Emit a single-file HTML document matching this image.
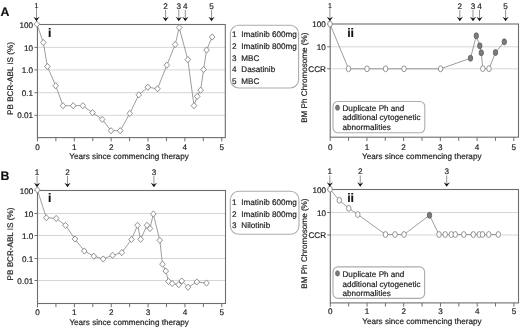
<!DOCTYPE html>
<html><head><meta charset="utf-8"><title>Figure</title>
<style>
html,body{margin:0;padding:0;background:#fff;}
body{width:520px;height:328px;overflow:hidden;font-family:"Liberation Sans",sans-serif;}
svg{display:block;filter:grayscale(1);} svg text{text-rendering:geometricPrecision;stroke:#1c1c1c;stroke-width:0.18px;}
</style></head><body>
<svg width="520" height="328" viewBox="0 0 520 328">
<rect width="520" height="328" fill="#fff"/>
<line x1="37.45" y1="47.4" x2="225.3" y2="47.4" stroke="#d6d6d6" stroke-width="1"/>
<line x1="37.45" y1="69.9" x2="225.3" y2="69.9" stroke="#d6d6d6" stroke-width="1"/>
<line x1="37.45" y1="92.7" x2="225.3" y2="92.7" stroke="#d6d6d6" stroke-width="1"/>
<line x1="37.45" y1="115.3" x2="225.3" y2="115.3" stroke="#d6d6d6" stroke-width="1"/>
<rect x="37.45" y="24.5" width="187.85000000000002" height="113.1" fill="none" stroke="#6e6e6e" stroke-width="1.1"/>
<line x1="34.45" y1="24.5" x2="37.45" y2="24.5" stroke="#6e6e6e" stroke-width="1"/>
<text x="33.150000000000006" y="27.6" text-anchor="end" font-size="8.15" fill="#1c1c1c" font-family="Liberation Sans, sans-serif">100</text>
<line x1="34.45" y1="47.4" x2="37.45" y2="47.4" stroke="#6e6e6e" stroke-width="1"/>
<text x="33.150000000000006" y="50.5" text-anchor="end" font-size="8.15" fill="#1c1c1c" font-family="Liberation Sans, sans-serif">10</text>
<line x1="34.45" y1="69.9" x2="37.45" y2="69.9" stroke="#6e6e6e" stroke-width="1"/>
<text x="33.150000000000006" y="73.0" text-anchor="end" font-size="8.15" fill="#1c1c1c" font-family="Liberation Sans, sans-serif">1.0</text>
<line x1="34.45" y1="92.7" x2="37.45" y2="92.7" stroke="#6e6e6e" stroke-width="1"/>
<text x="33.150000000000006" y="95.8" text-anchor="end" font-size="8.15" fill="#1c1c1c" font-family="Liberation Sans, sans-serif">0.1</text>
<line x1="34.45" y1="115.3" x2="37.45" y2="115.3" stroke="#6e6e6e" stroke-width="1"/>
<text x="33.150000000000006" y="118.39999999999999" text-anchor="end" font-size="8.15" fill="#1c1c1c" font-family="Liberation Sans, sans-serif">0.01</text>
<line x1="37.45" y1="137.6" x2="37.45" y2="141.4" stroke="#6e6e6e" stroke-width="1"/>
<text x="37.45" y="150.0" text-anchor="middle" font-size="8.15" fill="#1c1c1c" font-family="Liberation Sans, sans-serif">0</text>
<line x1="55.88" y1="137.6" x2="55.88" y2="141.2" stroke="#6e6e6e" stroke-width="1"/>
<line x1="74.31" y1="137.6" x2="74.31" y2="141.4" stroke="#6e6e6e" stroke-width="1"/>
<text x="74.31" y="150.0" text-anchor="middle" font-size="8.15" fill="#1c1c1c" font-family="Liberation Sans, sans-serif">1</text>
<line x1="92.74" y1="137.6" x2="92.74" y2="141.2" stroke="#6e6e6e" stroke-width="1"/>
<line x1="111.17" y1="137.6" x2="111.17" y2="141.4" stroke="#6e6e6e" stroke-width="1"/>
<text x="111.17" y="150.0" text-anchor="middle" font-size="8.15" fill="#1c1c1c" font-family="Liberation Sans, sans-serif">2</text>
<line x1="129.60" y1="137.6" x2="129.60" y2="141.2" stroke="#6e6e6e" stroke-width="1"/>
<line x1="148.03" y1="137.6" x2="148.03" y2="141.4" stroke="#6e6e6e" stroke-width="1"/>
<text x="148.03" y="150.0" text-anchor="middle" font-size="8.15" fill="#1c1c1c" font-family="Liberation Sans, sans-serif">3</text>
<line x1="166.46" y1="137.6" x2="166.46" y2="141.2" stroke="#6e6e6e" stroke-width="1"/>
<line x1="184.89" y1="137.6" x2="184.89" y2="141.4" stroke="#6e6e6e" stroke-width="1"/>
<text x="184.89" y="150.0" text-anchor="middle" font-size="8.15" fill="#1c1c1c" font-family="Liberation Sans, sans-serif">4</text>
<line x1="203.32" y1="137.6" x2="203.32" y2="141.2" stroke="#6e6e6e" stroke-width="1"/>
<line x1="221.75" y1="137.6" x2="221.75" y2="141.4" stroke="#6e6e6e" stroke-width="1"/>
<text x="221.75" y="150.0" text-anchor="middle" font-size="8.15" fill="#1c1c1c" font-family="Liberation Sans, sans-serif">5</text>
<text x="129.05" y="159.4" text-anchor="middle" font-size="8.15" fill="#1c1c1c" font-family="Liberation Sans, sans-serif">Years since commencing therapy</text>
<text transform="translate(13.4,78.5) rotate(-90)" text-anchor="middle" font-size="8.15" fill="#1c1c1c" font-family="Liberation Sans, sans-serif">PB BCR-ABL IS (%)</text>
<polyline points="36.9,24.2 43.3,42.5 47.4,66.5 55.7,85.7 63,105.7 73.2,105.7 82.8,105.7 92.5,112.7 102.2,119.4 111,130.7 120.2,130.7 129.8,113.4 138.8,94.8 147.8,87.2 157.5,88.8 166.8,65.2 175.2,44.5 179.2,27.6 187.8,59.6 194,105.7 197.2,96.4 200.6,90.2 203.6,69.5 206.6,50 212.2,37" fill="none" stroke="#858585" stroke-width="0.8"/>
<path d="M34.10,24.2 L36.9,21.10 L39.70,24.2 L36.9,27.30 Z" fill="#fff" stroke="#777" stroke-width="0.8"/>
<path d="M40.50,42.5 L43.3,39.40 L46.10,42.5 L43.3,45.60 Z" fill="#fff" stroke="#777" stroke-width="0.8"/>
<path d="M44.60,66.5 L47.4,63.40 L50.20,66.5 L47.4,69.60 Z" fill="#fff" stroke="#777" stroke-width="0.8"/>
<path d="M52.90,85.7 L55.7,82.60 L58.50,85.7 L55.7,88.80 Z" fill="#fff" stroke="#777" stroke-width="0.8"/>
<path d="M60.20,105.7 L63,102.60 L65.80,105.7 L63,108.80 Z" fill="#fff" stroke="#777" stroke-width="0.8"/>
<path d="M70.40,105.7 L73.2,102.60 L76.00,105.7 L73.2,108.80 Z" fill="#fff" stroke="#777" stroke-width="0.8"/>
<path d="M80.00,105.7 L82.8,102.60 L85.60,105.7 L82.8,108.80 Z" fill="#fff" stroke="#777" stroke-width="0.8"/>
<path d="M89.70,112.7 L92.5,109.60 L95.30,112.7 L92.5,115.80 Z" fill="#fff" stroke="#777" stroke-width="0.8"/>
<path d="M99.40,119.4 L102.2,116.30 L105.00,119.4 L102.2,122.50 Z" fill="#fff" stroke="#777" stroke-width="0.8"/>
<path d="M108.20,130.7 L111,127.60 L113.80,130.7 L111,133.80 Z" fill="#fff" stroke="#777" stroke-width="0.8"/>
<path d="M117.40,130.7 L120.2,127.60 L123.00,130.7 L120.2,133.80 Z" fill="#fff" stroke="#777" stroke-width="0.8"/>
<path d="M127.00,113.4 L129.8,110.30 L132.60,113.4 L129.8,116.50 Z" fill="#fff" stroke="#777" stroke-width="0.8"/>
<path d="M136.00,94.8 L138.8,91.70 L141.60,94.8 L138.8,97.90 Z" fill="#fff" stroke="#777" stroke-width="0.8"/>
<path d="M145.00,87.2 L147.8,84.10 L150.60,87.2 L147.8,90.30 Z" fill="#fff" stroke="#777" stroke-width="0.8"/>
<path d="M154.70,88.8 L157.5,85.70 L160.30,88.8 L157.5,91.90 Z" fill="#fff" stroke="#777" stroke-width="0.8"/>
<path d="M164.00,65.2 L166.8,62.10 L169.60,65.2 L166.8,68.30 Z" fill="#fff" stroke="#777" stroke-width="0.8"/>
<path d="M172.40,44.5 L175.2,41.40 L178.00,44.5 L175.2,47.60 Z" fill="#fff" stroke="#777" stroke-width="0.8"/>
<path d="M176.40,27.6 L179.2,24.50 L182.00,27.6 L179.2,30.70 Z" fill="#fff" stroke="#777" stroke-width="0.8"/>
<path d="M185.00,59.6 L187.8,56.50 L190.60,59.6 L187.8,62.70 Z" fill="#fff" stroke="#777" stroke-width="0.8"/>
<path d="M191.20,105.7 L194,102.60 L196.80,105.7 L194,108.80 Z" fill="#fff" stroke="#777" stroke-width="0.8"/>
<path d="M194.40,96.4 L197.2,93.30 L200.00,96.4 L197.2,99.50 Z" fill="#fff" stroke="#777" stroke-width="0.8"/>
<path d="M197.80,90.2 L200.6,87.10 L203.40,90.2 L200.6,93.30 Z" fill="#fff" stroke="#777" stroke-width="0.8"/>
<path d="M200.80,69.5 L203.6,66.40 L206.40,69.5 L203.6,72.60 Z" fill="#fff" stroke="#777" stroke-width="0.8"/>
<path d="M203.80,50 L206.6,46.90 L209.40,50 L206.6,53.10 Z" fill="#fff" stroke="#777" stroke-width="0.8"/>
<path d="M209.40,37 L212.2,33.90 L215.00,37 L212.2,40.10 Z" fill="#fff" stroke="#777" stroke-width="0.8"/>
<text x="36.5" y="7.6" text-anchor="middle" font-size="7" fill="#1c1c1c" font-family="Liberation Sans, sans-serif">1</text>
<line x1="36.5" y1="8.2" x2="36.5" y2="19.5" stroke="#666" stroke-width="0.7"/>
<path d="M33.40,16.8 L36.5,18.6 L39.60,16.8 L36.5,21.3 Z" fill="#111"/>
<text x="165.6" y="8.7" text-anchor="middle" font-size="8.15" fill="#1c1c1c" font-family="Liberation Sans, sans-serif">2</text>
<line x1="165.6" y1="9.9" x2="165.6" y2="19.5" stroke="#666" stroke-width="0.7"/>
<path d="M162.50,16.8 L165.6,18.6 L168.70,16.8 L165.6,21.3 Z" fill="#111"/>
<text x="178.8" y="8.7" text-anchor="middle" font-size="8.15" fill="#1c1c1c" font-family="Liberation Sans, sans-serif">3</text>
<line x1="178.8" y1="9.9" x2="178.8" y2="19.5" stroke="#666" stroke-width="0.7"/>
<path d="M175.70,16.8 L178.8,18.6 L181.90,16.8 L178.8,21.3 Z" fill="#111"/>
<text x="185.3" y="8.7" text-anchor="middle" font-size="8.15" fill="#1c1c1c" font-family="Liberation Sans, sans-serif">4</text>
<line x1="185.3" y1="9.9" x2="185.3" y2="19.5" stroke="#666" stroke-width="0.7"/>
<path d="M182.20,16.8 L185.3,18.6 L188.40,16.8 L185.3,21.3 Z" fill="#111"/>
<text x="211.55" y="8.7" text-anchor="middle" font-size="8.15" fill="#1c1c1c" font-family="Liberation Sans, sans-serif">5</text>
<line x1="211.55" y1="9.9" x2="211.55" y2="19.5" stroke="#666" stroke-width="0.7"/>
<path d="M208.45,16.8 L211.55,18.6 L214.65,16.8 L211.55,21.3 Z" fill="#111"/>
<text x="48.1" y="36.8" font-size="12.3" font-weight="bold" fill="#111" font-family="Liberation Sans, sans-serif">i</text>
<text x="0.5" y="15.6" font-size="12.3" font-weight="bold" fill="#111" font-family="Liberation Sans, sans-serif">A</text>
<rect x="230.4" y="25.2" width="68.2" height="62.8" rx="8.5" ry="8.5" fill="#fff" stroke="#acacac" stroke-width="1.1"/>
<text x="232.0" y="36.9" font-size="8.15" fill="#1c1c1c" font-family="Liberation Sans, sans-serif">1</text>
<text x="241.3" y="36.9" font-size="8.15" fill="#1c1c1c" font-family="Liberation Sans, sans-serif">Imatinib 600mg</text>
<text x="232.0" y="48.699999999999996" font-size="8.15" fill="#1c1c1c" font-family="Liberation Sans, sans-serif">2</text>
<text x="241.3" y="48.699999999999996" font-size="8.15" fill="#1c1c1c" font-family="Liberation Sans, sans-serif">Imatinib 800mg</text>
<text x="232.0" y="60.5" font-size="8.15" fill="#1c1c1c" font-family="Liberation Sans, sans-serif">3</text>
<text x="241.3" y="60.5" font-size="8.15" fill="#1c1c1c" font-family="Liberation Sans, sans-serif">MBC</text>
<text x="232.0" y="72.10000000000001" font-size="8.15" fill="#1c1c1c" font-family="Liberation Sans, sans-serif">4</text>
<text x="241.3" y="72.10000000000001" font-size="8.15" fill="#1c1c1c" font-family="Liberation Sans, sans-serif">Dasatinib</text>
<text x="232.0" y="83.5" font-size="8.15" fill="#1c1c1c" font-family="Liberation Sans, sans-serif">5</text>
<text x="241.3" y="83.5" font-size="8.15" fill="#1c1c1c" font-family="Liberation Sans, sans-serif">MBC</text>
<line x1="330.2" y1="46.8" x2="518.5" y2="46.8" stroke="#d6d6d6" stroke-width="1"/>
<line x1="330.2" y1="68.8" x2="518.5" y2="68.8" stroke="#d6d6d6" stroke-width="1"/>
<rect x="330.2" y="24.0" width="188.3" height="113.19999999999999" fill="none" stroke="#6e6e6e" stroke-width="1.1"/>
<line x1="327.2" y1="24.0" x2="330.2" y2="24.0" stroke="#6e6e6e" stroke-width="1"/>
<text x="325.9" y="27.1" text-anchor="end" font-size="8.15" fill="#1c1c1c" font-family="Liberation Sans, sans-serif">100</text>
<line x1="327.2" y1="46.8" x2="330.2" y2="46.8" stroke="#6e6e6e" stroke-width="1"/>
<text x="325.9" y="49.9" text-anchor="end" font-size="8.15" fill="#1c1c1c" font-family="Liberation Sans, sans-serif">10</text>
<line x1="327.2" y1="68.8" x2="330.2" y2="68.8" stroke="#6e6e6e" stroke-width="1"/>
<text x="325.9" y="71.89999999999999" text-anchor="end" font-size="8.15" fill="#1c1c1c" font-family="Liberation Sans, sans-serif">CCR</text>
<line x1="330.20" y1="137.2" x2="330.20" y2="141.0" stroke="#6e6e6e" stroke-width="1"/>
<text x="330.20" y="149.6" text-anchor="middle" font-size="8.15" fill="#1c1c1c" font-family="Liberation Sans, sans-serif">0</text>
<line x1="348.56" y1="137.2" x2="348.56" y2="140.79999999999998" stroke="#6e6e6e" stroke-width="1"/>
<line x1="366.92" y1="137.2" x2="366.92" y2="141.0" stroke="#6e6e6e" stroke-width="1"/>
<text x="366.92" y="149.6" text-anchor="middle" font-size="8.15" fill="#1c1c1c" font-family="Liberation Sans, sans-serif">1</text>
<line x1="385.28" y1="137.2" x2="385.28" y2="140.79999999999998" stroke="#6e6e6e" stroke-width="1"/>
<line x1="403.64" y1="137.2" x2="403.64" y2="141.0" stroke="#6e6e6e" stroke-width="1"/>
<text x="403.64" y="149.6" text-anchor="middle" font-size="8.15" fill="#1c1c1c" font-family="Liberation Sans, sans-serif">2</text>
<line x1="422.00" y1="137.2" x2="422.00" y2="140.79999999999998" stroke="#6e6e6e" stroke-width="1"/>
<line x1="440.36" y1="137.2" x2="440.36" y2="141.0" stroke="#6e6e6e" stroke-width="1"/>
<text x="440.36" y="149.6" text-anchor="middle" font-size="8.15" fill="#1c1c1c" font-family="Liberation Sans, sans-serif">3</text>
<line x1="458.72" y1="137.2" x2="458.72" y2="140.79999999999998" stroke="#6e6e6e" stroke-width="1"/>
<line x1="477.08" y1="137.2" x2="477.08" y2="141.0" stroke="#6e6e6e" stroke-width="1"/>
<text x="477.08" y="149.6" text-anchor="middle" font-size="8.15" fill="#1c1c1c" font-family="Liberation Sans, sans-serif">4</text>
<line x1="495.44" y1="137.2" x2="495.44" y2="140.79999999999998" stroke="#6e6e6e" stroke-width="1"/>
<line x1="513.80" y1="137.2" x2="513.80" y2="141.0" stroke="#6e6e6e" stroke-width="1"/>
<text x="513.80" y="149.6" text-anchor="middle" font-size="8.15" fill="#1c1c1c" font-family="Liberation Sans, sans-serif">5</text>
<text x="421.80" y="159.0" text-anchor="middle" font-size="8.15" fill="#1c1c1c" font-family="Liberation Sans, sans-serif">Years since commencing therapy</text>
<text transform="translate(307.2,77.7) rotate(-90)" text-anchor="middle" font-size="8.15" fill="#1c1c1c" font-family="Liberation Sans, sans-serif">BM Ph Chromosome (%)</text>
<polyline points="330,24 348.5,68.8 367,68.8 385.6,68.8 404,68.8 440.6,68.8 470.5,58.2 476.3,35.8 479.8,45.8 481.3,52.8 482.8,68.6 489,68.6 495.5,52.5 504.3,41.8" fill="none" stroke="#858585" stroke-width="0.8"/>
<ellipse cx="330" cy="24" rx="2.25" ry="2.95" fill="#fff" stroke="#7c7c7c" stroke-width="0.8"/>
<ellipse cx="348.5" cy="68.8" rx="2.25" ry="2.95" fill="#fff" stroke="#7c7c7c" stroke-width="0.8"/>
<ellipse cx="367" cy="68.8" rx="2.25" ry="2.95" fill="#fff" stroke="#7c7c7c" stroke-width="0.8"/>
<ellipse cx="385.6" cy="68.8" rx="2.25" ry="2.95" fill="#fff" stroke="#7c7c7c" stroke-width="0.8"/>
<ellipse cx="404" cy="68.8" rx="2.25" ry="2.95" fill="#fff" stroke="#7c7c7c" stroke-width="0.8"/>
<ellipse cx="440.6" cy="68.8" rx="2.25" ry="2.95" fill="#fff" stroke="#7c7c7c" stroke-width="0.8"/>
<ellipse cx="470.5" cy="58.2" rx="2.2" ry="3.0" fill="#7c7c7c" stroke="#5c5c5c" stroke-width="0.8"/>
<ellipse cx="476.3" cy="35.8" rx="2.2" ry="3.0" fill="#7c7c7c" stroke="#5c5c5c" stroke-width="0.8"/>
<ellipse cx="479.8" cy="45.8" rx="2.2" ry="3.0" fill="#7c7c7c" stroke="#5c5c5c" stroke-width="0.8"/>
<ellipse cx="481.3" cy="52.8" rx="2.2" ry="3.0" fill="#7c7c7c" stroke="#5c5c5c" stroke-width="0.8"/>
<ellipse cx="482.8" cy="68.6" rx="2.25" ry="2.95" fill="#fff" stroke="#7c7c7c" stroke-width="0.8"/>
<ellipse cx="489" cy="68.6" rx="2.25" ry="2.95" fill="#fff" stroke="#7c7c7c" stroke-width="0.8"/>
<ellipse cx="495.5" cy="52.5" rx="2.2" ry="3.0" fill="#7c7c7c" stroke="#5c5c5c" stroke-width="0.8"/>
<ellipse cx="504.3" cy="41.8" rx="2.2" ry="3.0" fill="#7c7c7c" stroke="#5c5c5c" stroke-width="0.8"/>
<text x="329.9" y="7.6" text-anchor="middle" font-size="7" fill="#1c1c1c" font-family="Liberation Sans, sans-serif">1</text>
<line x1="329.9" y1="8.2" x2="329.9" y2="19.5" stroke="#666" stroke-width="0.7"/>
<path d="M326.80,16.8 L329.9,18.6 L333.00,16.8 L329.9,21.3 Z" fill="#111"/>
<text x="459.85" y="8.7" text-anchor="middle" font-size="8.15" fill="#1c1c1c" font-family="Liberation Sans, sans-serif">2</text>
<line x1="459.85" y1="9.9" x2="459.85" y2="19.5" stroke="#666" stroke-width="0.7"/>
<path d="M456.75,16.8 L459.85,18.6 L462.95,16.8 L459.85,21.3 Z" fill="#111"/>
<text x="473" y="8.7" text-anchor="middle" font-size="8.15" fill="#1c1c1c" font-family="Liberation Sans, sans-serif">3</text>
<line x1="473" y1="9.9" x2="473" y2="19.5" stroke="#666" stroke-width="0.7"/>
<path d="M469.90,16.8 L473,18.6 L476.10,16.8 L473,21.3 Z" fill="#111"/>
<text x="479.5" y="8.7" text-anchor="middle" font-size="8.15" fill="#1c1c1c" font-family="Liberation Sans, sans-serif">4</text>
<line x1="479.5" y1="9.9" x2="479.5" y2="19.5" stroke="#666" stroke-width="0.7"/>
<path d="M476.40,16.8 L479.5,18.6 L482.60,16.8 L479.5,21.3 Z" fill="#111"/>
<text x="505.6" y="8.7" text-anchor="middle" font-size="8.15" fill="#1c1c1c" font-family="Liberation Sans, sans-serif">5</text>
<line x1="505.6" y1="9.9" x2="505.6" y2="19.5" stroke="#666" stroke-width="0.7"/>
<path d="M502.50,16.8 L505.6,18.6 L508.70,16.8 L505.6,21.3 Z" fill="#111"/>
<text x="347.2" y="36.8" font-size="12.3" font-weight="bold" fill="#111" font-family="Liberation Sans, sans-serif">ii</text>
<rect x="333.0" y="101.5" width="91.8" height="31.3" rx="5" ry="5" fill="#fff" stroke="#acacac" stroke-width="1.1"/>
<text x="342.5" y="110.5" font-size="8.15" fill="#1c1c1c" font-family="Liberation Sans, sans-serif">Duplicate Ph and</text>
<text x="342.5" y="120.4" font-size="8.15" fill="#1c1c1c" font-family="Liberation Sans, sans-serif">additional cytogenetic</text>
<text x="342.5" y="130.2" font-size="8.15" fill="#1c1c1c" font-family="Liberation Sans, sans-serif">abnormalities</text>
<ellipse cx="337.5" cy="107.7" rx="2.0" ry="2.6" fill="#7c7c7c" stroke="#666" stroke-width="0.8"/>
<line x1="37.5" y1="213.5" x2="225.5" y2="213.5" stroke="#d6d6d6" stroke-width="1"/>
<line x1="37.5" y1="235.5" x2="225.5" y2="235.5" stroke="#d6d6d6" stroke-width="1"/>
<line x1="37.5" y1="258.5" x2="225.5" y2="258.5" stroke="#d6d6d6" stroke-width="1"/>
<line x1="37.5" y1="280.5" x2="225.5" y2="280.5" stroke="#d6d6d6" stroke-width="1"/>
<rect x="37.5" y="190.5" width="188.0" height="113.0" fill="none" stroke="#6e6e6e" stroke-width="1.1"/>
<line x1="34.5" y1="190.5" x2="37.5" y2="190.5" stroke="#6e6e6e" stroke-width="1"/>
<text x="33.2" y="193.6" text-anchor="end" font-size="8.15" fill="#1c1c1c" font-family="Liberation Sans, sans-serif">100</text>
<line x1="34.5" y1="213.5" x2="37.5" y2="213.5" stroke="#6e6e6e" stroke-width="1"/>
<text x="33.2" y="216.6" text-anchor="end" font-size="8.15" fill="#1c1c1c" font-family="Liberation Sans, sans-serif">10</text>
<line x1="34.5" y1="235.5" x2="37.5" y2="235.5" stroke="#6e6e6e" stroke-width="1"/>
<text x="33.2" y="238.6" text-anchor="end" font-size="8.15" fill="#1c1c1c" font-family="Liberation Sans, sans-serif">1.0</text>
<line x1="34.5" y1="258.5" x2="37.5" y2="258.5" stroke="#6e6e6e" stroke-width="1"/>
<text x="33.2" y="261.6" text-anchor="end" font-size="8.15" fill="#1c1c1c" font-family="Liberation Sans, sans-serif">0.1</text>
<line x1="34.5" y1="280.5" x2="37.5" y2="280.5" stroke="#6e6e6e" stroke-width="1"/>
<text x="33.2" y="283.6" text-anchor="end" font-size="8.15" fill="#1c1c1c" font-family="Liberation Sans, sans-serif">0.01</text>
<line x1="37.50" y1="303.5" x2="37.50" y2="307.3" stroke="#6e6e6e" stroke-width="1"/>
<text x="37.50" y="315.4" text-anchor="middle" font-size="8.15" fill="#1c1c1c" font-family="Liberation Sans, sans-serif">0</text>
<line x1="55.93" y1="303.5" x2="55.93" y2="307.1" stroke="#6e6e6e" stroke-width="1"/>
<line x1="74.36" y1="303.5" x2="74.36" y2="307.3" stroke="#6e6e6e" stroke-width="1"/>
<text x="74.36" y="315.4" text-anchor="middle" font-size="8.15" fill="#1c1c1c" font-family="Liberation Sans, sans-serif">1</text>
<line x1="92.79" y1="303.5" x2="92.79" y2="307.1" stroke="#6e6e6e" stroke-width="1"/>
<line x1="111.22" y1="303.5" x2="111.22" y2="307.3" stroke="#6e6e6e" stroke-width="1"/>
<text x="111.22" y="315.4" text-anchor="middle" font-size="8.15" fill="#1c1c1c" font-family="Liberation Sans, sans-serif">2</text>
<line x1="129.65" y1="303.5" x2="129.65" y2="307.1" stroke="#6e6e6e" stroke-width="1"/>
<line x1="148.08" y1="303.5" x2="148.08" y2="307.3" stroke="#6e6e6e" stroke-width="1"/>
<text x="148.08" y="315.4" text-anchor="middle" font-size="8.15" fill="#1c1c1c" font-family="Liberation Sans, sans-serif">3</text>
<line x1="166.51" y1="303.5" x2="166.51" y2="307.1" stroke="#6e6e6e" stroke-width="1"/>
<line x1="184.94" y1="303.5" x2="184.94" y2="307.3" stroke="#6e6e6e" stroke-width="1"/>
<text x="184.94" y="315.4" text-anchor="middle" font-size="8.15" fill="#1c1c1c" font-family="Liberation Sans, sans-serif">4</text>
<line x1="203.37" y1="303.5" x2="203.37" y2="307.1" stroke="#6e6e6e" stroke-width="1"/>
<line x1="221.80" y1="303.5" x2="221.80" y2="307.3" stroke="#6e6e6e" stroke-width="1"/>
<text x="221.80" y="315.4" text-anchor="middle" font-size="8.15" fill="#1c1c1c" font-family="Liberation Sans, sans-serif">5</text>
<text x="129.10" y="324.8" text-anchor="middle" font-size="8.15" fill="#1c1c1c" font-family="Liberation Sans, sans-serif">Years since commencing therapy</text>
<text transform="translate(13.4,244.0) rotate(-90)" text-anchor="middle" font-size="8.15" fill="#1c1c1c" font-family="Liberation Sans, sans-serif">PB BCR-ABL IS (%)</text>
<polyline points="37.4,190 46.3,217.7 56.2,218.4 65.5,225.4 75,239 84.3,251 93.8,256.2 103.2,259 112.5,255.3 121.8,252.6 131.5,239.5 137.5,225.3 140.6,239.3 147,225.3 150,228.5 153.3,214 159.8,240.3 162.5,264.2 165.8,271 168.5,281.5 172.2,283.5 178.7,284.7 181.8,281 188,287.2 196.8,282 206.5,283" fill="none" stroke="#858585" stroke-width="0.8"/>
<path d="M34.60,190 L37.4,186.90 L40.20,190 L37.4,193.10 Z" fill="#fff" stroke="#777" stroke-width="0.8"/>
<path d="M43.50,217.7 L46.3,214.60 L49.10,217.7 L46.3,220.80 Z" fill="#fff" stroke="#777" stroke-width="0.8"/>
<path d="M53.40,218.4 L56.2,215.30 L59.00,218.4 L56.2,221.50 Z" fill="#fff" stroke="#777" stroke-width="0.8"/>
<path d="M62.70,225.4 L65.5,222.30 L68.30,225.4 L65.5,228.50 Z" fill="#fff" stroke="#777" stroke-width="0.8"/>
<path d="M72.20,239 L75,235.90 L77.80,239 L75,242.10 Z" fill="#fff" stroke="#777" stroke-width="0.8"/>
<path d="M81.50,251 L84.3,247.90 L87.10,251 L84.3,254.10 Z" fill="#fff" stroke="#777" stroke-width="0.8"/>
<path d="M91.00,256.2 L93.8,253.10 L96.60,256.2 L93.8,259.30 Z" fill="#fff" stroke="#777" stroke-width="0.8"/>
<path d="M100.40,259 L103.2,255.90 L106.00,259 L103.2,262.10 Z" fill="#fff" stroke="#777" stroke-width="0.8"/>
<path d="M109.70,255.3 L112.5,252.20 L115.30,255.3 L112.5,258.40 Z" fill="#fff" stroke="#777" stroke-width="0.8"/>
<path d="M119.00,252.6 L121.8,249.50 L124.60,252.6 L121.8,255.70 Z" fill="#fff" stroke="#777" stroke-width="0.8"/>
<path d="M128.70,239.5 L131.5,236.40 L134.30,239.5 L131.5,242.60 Z" fill="#fff" stroke="#777" stroke-width="0.8"/>
<path d="M134.70,225.3 L137.5,222.20 L140.30,225.3 L137.5,228.40 Z" fill="#fff" stroke="#777" stroke-width="0.8"/>
<path d="M137.80,239.3 L140.6,236.20 L143.40,239.3 L140.6,242.40 Z" fill="#fff" stroke="#777" stroke-width="0.8"/>
<path d="M144.20,225.3 L147,222.20 L149.80,225.3 L147,228.40 Z" fill="#fff" stroke="#777" stroke-width="0.8"/>
<path d="M147.20,228.5 L150,225.40 L152.80,228.5 L150,231.60 Z" fill="#fff" stroke="#777" stroke-width="0.8"/>
<path d="M150.50,214 L153.3,210.90 L156.10,214 L153.3,217.10 Z" fill="#fff" stroke="#777" stroke-width="0.8"/>
<path d="M157.00,240.3 L159.8,237.20 L162.60,240.3 L159.8,243.40 Z" fill="#fff" stroke="#777" stroke-width="0.8"/>
<path d="M159.70,264.2 L162.5,261.10 L165.30,264.2 L162.5,267.30 Z" fill="#fff" stroke="#777" stroke-width="0.8"/>
<path d="M163.00,271 L165.8,267.90 L168.60,271 L165.8,274.10 Z" fill="#fff" stroke="#777" stroke-width="0.8"/>
<path d="M165.70,281.5 L168.5,278.40 L171.30,281.5 L168.5,284.60 Z" fill="#fff" stroke="#777" stroke-width="0.8"/>
<path d="M169.40,283.5 L172.2,280.40 L175.00,283.5 L172.2,286.60 Z" fill="#fff" stroke="#777" stroke-width="0.8"/>
<path d="M175.90,284.7 L178.7,281.60 L181.50,284.7 L178.7,287.80 Z" fill="#fff" stroke="#777" stroke-width="0.8"/>
<path d="M179.00,281 L181.8,277.90 L184.60,281 L181.8,284.10 Z" fill="#fff" stroke="#777" stroke-width="0.8"/>
<path d="M185.20,287.2 L188,284.10 L190.80,287.2 L188,290.30 Z" fill="#fff" stroke="#777" stroke-width="0.8"/>
<path d="M194.00,282 L196.8,278.90 L199.60,282 L196.8,285.10 Z" fill="#fff" stroke="#777" stroke-width="0.8"/>
<path d="M203.70,283 L206.5,279.90 L209.30,283 L206.5,286.10 Z" fill="#fff" stroke="#777" stroke-width="0.8"/>
<text x="37.05" y="174.7" text-anchor="middle" font-size="8.15" fill="#1c1c1c" font-family="Liberation Sans, sans-serif">1</text>
<line x1="37.05" y1="175.9" x2="37.05" y2="185.5" stroke="#666" stroke-width="0.7"/>
<path d="M33.95,182.8 L37.05,184.6 L40.15,182.8 L37.05,187.3 Z" fill="#111"/>
<text x="67.5" y="174.7" text-anchor="middle" font-size="8.15" fill="#1c1c1c" font-family="Liberation Sans, sans-serif">2</text>
<line x1="67.5" y1="175.9" x2="67.5" y2="185.5" stroke="#666" stroke-width="0.7"/>
<path d="M64.40,182.8 L67.5,184.6 L70.60,182.8 L67.5,187.3 Z" fill="#111"/>
<text x="153.9" y="174.7" text-anchor="middle" font-size="8.15" fill="#1c1c1c" font-family="Liberation Sans, sans-serif">3</text>
<line x1="153.9" y1="175.9" x2="153.9" y2="185.5" stroke="#666" stroke-width="0.7"/>
<path d="M150.80,182.8 L153.9,184.6 L157.00,182.8 L153.9,187.3 Z" fill="#111"/>
<text x="48.1" y="202.1" font-size="12.3" font-weight="bold" fill="#111" font-family="Liberation Sans, sans-serif">i</text>
<text x="0.5" y="180.1" font-size="12.3" font-weight="bold" fill="#111" font-family="Liberation Sans, sans-serif">B</text>
<rect x="230.3" y="191.3" width="68.7" height="43" rx="8.5" ry="8.5" fill="#fff" stroke="#acacac" stroke-width="1.1"/>
<text x="231.9" y="205.20000000000002" font-size="8.15" fill="#1c1c1c" font-family="Liberation Sans, sans-serif">1</text>
<text x="241.3" y="205.20000000000002" font-size="8.15" fill="#1c1c1c" font-family="Liberation Sans, sans-serif">Imatinib 600mg</text>
<text x="231.9" y="216.70000000000002" font-size="8.15" fill="#1c1c1c" font-family="Liberation Sans, sans-serif">2</text>
<text x="241.3" y="216.70000000000002" font-size="8.15" fill="#1c1c1c" font-family="Liberation Sans, sans-serif">Imatinib 800mg</text>
<text x="231.9" y="228.20000000000002" font-size="8.15" fill="#1c1c1c" font-family="Liberation Sans, sans-serif">3</text>
<text x="241.3" y="228.20000000000002" font-size="8.15" fill="#1c1c1c" font-family="Liberation Sans, sans-serif">Nilotinib</text>
<line x1="330.3" y1="212.5" x2="518.5" y2="212.5" stroke="#d6d6d6" stroke-width="1"/>
<line x1="330.3" y1="235.0" x2="518.5" y2="235.0" stroke="#d6d6d6" stroke-width="1"/>
<rect x="330.3" y="189.5" width="188.2" height="113.39999999999998" fill="none" stroke="#6e6e6e" stroke-width="1.1"/>
<line x1="327.3" y1="189.5" x2="330.3" y2="189.5" stroke="#6e6e6e" stroke-width="1"/>
<text x="326.0" y="192.6" text-anchor="end" font-size="8.15" fill="#1c1c1c" font-family="Liberation Sans, sans-serif">100</text>
<line x1="327.3" y1="212.5" x2="330.3" y2="212.5" stroke="#6e6e6e" stroke-width="1"/>
<text x="326.0" y="215.6" text-anchor="end" font-size="8.15" fill="#1c1c1c" font-family="Liberation Sans, sans-serif">10</text>
<line x1="327.3" y1="235.0" x2="330.3" y2="235.0" stroke="#6e6e6e" stroke-width="1"/>
<text x="326.0" y="238.1" text-anchor="end" font-size="8.15" fill="#1c1c1c" font-family="Liberation Sans, sans-serif">CCR</text>
<line x1="330.30" y1="302.9" x2="330.30" y2="306.7" stroke="#6e6e6e" stroke-width="1"/>
<text x="330.30" y="314.4" text-anchor="middle" font-size="8.15" fill="#1c1c1c" font-family="Liberation Sans, sans-serif">0</text>
<line x1="348.66" y1="302.9" x2="348.66" y2="306.5" stroke="#6e6e6e" stroke-width="1"/>
<line x1="367.02" y1="302.9" x2="367.02" y2="306.7" stroke="#6e6e6e" stroke-width="1"/>
<text x="367.02" y="314.4" text-anchor="middle" font-size="8.15" fill="#1c1c1c" font-family="Liberation Sans, sans-serif">1</text>
<line x1="385.38" y1="302.9" x2="385.38" y2="306.5" stroke="#6e6e6e" stroke-width="1"/>
<line x1="403.74" y1="302.9" x2="403.74" y2="306.7" stroke="#6e6e6e" stroke-width="1"/>
<text x="403.74" y="314.4" text-anchor="middle" font-size="8.15" fill="#1c1c1c" font-family="Liberation Sans, sans-serif">2</text>
<line x1="422.10" y1="302.9" x2="422.10" y2="306.5" stroke="#6e6e6e" stroke-width="1"/>
<line x1="440.46" y1="302.9" x2="440.46" y2="306.7" stroke="#6e6e6e" stroke-width="1"/>
<text x="440.46" y="314.4" text-anchor="middle" font-size="8.15" fill="#1c1c1c" font-family="Liberation Sans, sans-serif">3</text>
<line x1="458.82" y1="302.9" x2="458.82" y2="306.5" stroke="#6e6e6e" stroke-width="1"/>
<line x1="477.18" y1="302.9" x2="477.18" y2="306.7" stroke="#6e6e6e" stroke-width="1"/>
<text x="477.18" y="314.4" text-anchor="middle" font-size="8.15" fill="#1c1c1c" font-family="Liberation Sans, sans-serif">4</text>
<line x1="495.54" y1="302.9" x2="495.54" y2="306.5" stroke="#6e6e6e" stroke-width="1"/>
<line x1="513.90" y1="302.9" x2="513.90" y2="306.7" stroke="#6e6e6e" stroke-width="1"/>
<text x="513.90" y="314.4" text-anchor="middle" font-size="8.15" fill="#1c1c1c" font-family="Liberation Sans, sans-serif">5</text>
<text x="421.90" y="323.8" text-anchor="middle" font-size="8.15" fill="#1c1c1c" font-family="Liberation Sans, sans-serif">Years since commencing therapy</text>
<text transform="translate(307.2,243.6) rotate(-90)" text-anchor="middle" font-size="8.15" fill="#1c1c1c" font-family="Liberation Sans, sans-serif">BM Ph Chromosome (%)</text>
<polyline points="330,189.2 339.3,200.3 348.8,208.3 357.8,214.5 385.5,234.5 395,234.5 404,234.5 429.5,215.3 439,234.5 445.2,234.5 451.3,234.5 455.3,234.5 463.8,234.5 473.3,234.5 479.3,234.5 482.5,234.5 488.8,234.5 498.3,234.5" fill="none" stroke="#858585" stroke-width="0.8"/>
<ellipse cx="330" cy="189.2" rx="2.25" ry="2.95" fill="#fff" stroke="#7c7c7c" stroke-width="0.8"/>
<ellipse cx="339.3" cy="200.3" rx="2.25" ry="2.95" fill="#fff" stroke="#7c7c7c" stroke-width="0.8"/>
<ellipse cx="348.8" cy="208.3" rx="2.25" ry="2.95" fill="#fff" stroke="#7c7c7c" stroke-width="0.8"/>
<ellipse cx="357.8" cy="214.5" rx="2.25" ry="2.95" fill="#fff" stroke="#7c7c7c" stroke-width="0.8"/>
<ellipse cx="385.5" cy="234.5" rx="2.25" ry="2.95" fill="#fff" stroke="#7c7c7c" stroke-width="0.8"/>
<ellipse cx="395" cy="234.5" rx="2.25" ry="2.95" fill="#fff" stroke="#7c7c7c" stroke-width="0.8"/>
<ellipse cx="404" cy="234.5" rx="2.25" ry="2.95" fill="#fff" stroke="#7c7c7c" stroke-width="0.8"/>
<ellipse cx="429.5" cy="215.3" rx="2.2" ry="3.0" fill="#7c7c7c" stroke="#5c5c5c" stroke-width="0.8"/>
<ellipse cx="439" cy="234.5" rx="2.25" ry="2.95" fill="#fff" stroke="#7c7c7c" stroke-width="0.8"/>
<ellipse cx="445.2" cy="234.5" rx="2.25" ry="2.95" fill="#fff" stroke="#7c7c7c" stroke-width="0.8"/>
<ellipse cx="451.3" cy="234.5" rx="2.25" ry="2.95" fill="#fff" stroke="#7c7c7c" stroke-width="0.8"/>
<ellipse cx="455.3" cy="234.5" rx="2.25" ry="2.95" fill="#fff" stroke="#7c7c7c" stroke-width="0.8"/>
<ellipse cx="463.8" cy="234.5" rx="2.25" ry="2.95" fill="#fff" stroke="#7c7c7c" stroke-width="0.8"/>
<ellipse cx="473.3" cy="234.5" rx="2.25" ry="2.95" fill="#fff" stroke="#7c7c7c" stroke-width="0.8"/>
<ellipse cx="479.3" cy="234.5" rx="2.25" ry="2.95" fill="#fff" stroke="#7c7c7c" stroke-width="0.8"/>
<ellipse cx="482.5" cy="234.5" rx="2.25" ry="2.95" fill="#fff" stroke="#7c7c7c" stroke-width="0.8"/>
<ellipse cx="488.8" cy="234.5" rx="2.25" ry="2.95" fill="#fff" stroke="#7c7c7c" stroke-width="0.8"/>
<ellipse cx="498.3" cy="234.5" rx="2.25" ry="2.95" fill="#fff" stroke="#7c7c7c" stroke-width="0.8"/>
<text x="329.85" y="174.2" text-anchor="middle" font-size="8.15" fill="#1c1c1c" font-family="Liberation Sans, sans-serif">1</text>
<line x1="329.85" y1="175.4" x2="329.85" y2="185.0" stroke="#666" stroke-width="0.7"/>
<path d="M326.75,182.3 L329.85,184.1 L332.95,182.3 L329.85,186.8 Z" fill="#111"/>
<text x="360.25" y="174.2" text-anchor="middle" font-size="8.15" fill="#1c1c1c" font-family="Liberation Sans, sans-serif">2</text>
<line x1="360.25" y1="175.4" x2="360.25" y2="185.0" stroke="#666" stroke-width="0.7"/>
<path d="M357.15,182.3 L360.25,184.1 L363.35,182.3 L360.25,186.8 Z" fill="#111"/>
<text x="446.7" y="174.2" text-anchor="middle" font-size="8.15" fill="#1c1c1c" font-family="Liberation Sans, sans-serif">3</text>
<line x1="446.7" y1="175.4" x2="446.7" y2="185.0" stroke="#666" stroke-width="0.7"/>
<path d="M443.60,182.3 L446.7,184.1 L449.80,182.3 L446.7,186.8 Z" fill="#111"/>
<text x="347.2" y="202.1" font-size="12.3" font-weight="bold" fill="#111" font-family="Liberation Sans, sans-serif">ii</text>
<rect x="333.0" y="266.9" width="91.6" height="31.5" rx="5" ry="5" fill="#fff" stroke="#acacac" stroke-width="1.1"/>
<text x="342.5" y="276.9" font-size="8.15" fill="#1c1c1c" font-family="Liberation Sans, sans-serif">Duplicate Ph and</text>
<text x="342.5" y="286.7" font-size="8.15" fill="#1c1c1c" font-family="Liberation Sans, sans-serif">additional cytogenetic</text>
<text x="342.5" y="296.29999999999995" font-size="8.15" fill="#1c1c1c" font-family="Liberation Sans, sans-serif">abnormalities</text>
<ellipse cx="337.5" cy="273.4" rx="2.0" ry="2.6" fill="#7c7c7c" stroke="#666" stroke-width="0.8"/>
</svg>
</body></html>
